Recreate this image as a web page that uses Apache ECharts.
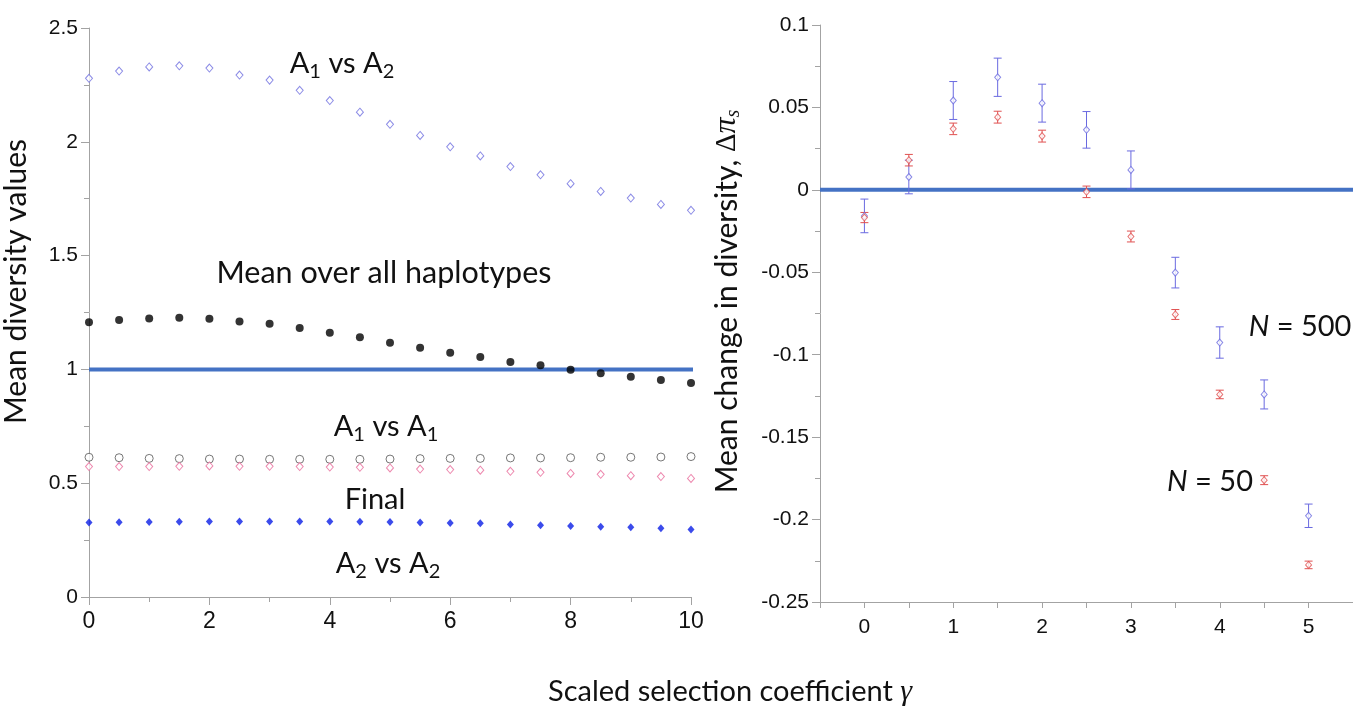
<!DOCTYPE html>
<html>
<head>
<meta charset="utf-8">
<script src="https://cdn.jsdelivr.net/npm/echarts@6/dist/echarts.min.js"></script>
<style>
  html, body { margin: 0; padding: 0; background: #fff; }
  #chart { width: 1353px; height: 708px; }
</style>
</head>
<body>
<div id="chart"></div>
<script>
// gamma values for the left panel (0..10 step 0.5)
const gammaLeft = [0, 0.5, 1, 1.5, 2, 2.5, 3, 3.5, 4, 4.5, 5, 5.5, 6, 6.5, 7, 7.5, 8, 8.5, 9, 9.5, 10];
const a1VsA2 = [2.279, 2.311, 2.329, 2.334, 2.324, 2.293, 2.271, 2.226, 2.181, 2.130, 2.077, 2.028, 1.978, 1.938, 1.891, 1.855, 1.816, 1.782, 1.753, 1.725, 1.699];
const meanAll = [1.207, 1.217, 1.224, 1.227, 1.223, 1.210, 1.201, 1.182, 1.161, 1.141, 1.117, 1.095, 1.073, 1.054, 1.032, 1.018, 0.999, 0.983, 0.968, 0.953, 0.940];
const a1VsA1 = [0.614, 0.612, 0.609, 0.608, 0.606, 0.606, 0.605, 0.605, 0.605, 0.605, 0.606, 0.608, 0.609, 0.609, 0.611, 0.611, 0.612, 0.614, 0.614, 0.615, 0.617];
const finalDiv = [0.573, 0.573, 0.573, 0.574, 0.576, 0.574, 0.574, 0.573, 0.571, 0.570, 0.567, 0.562, 0.560, 0.557, 0.552, 0.548, 0.543, 0.539, 0.533, 0.529, 0.521];
const a2VsA2 = [0.327, 0.328, 0.330, 0.331, 0.332, 0.332, 0.332, 0.332, 0.332, 0.331, 0.330, 0.327, 0.325, 0.324, 0.319, 0.315, 0.312, 0.309, 0.306, 0.302, 0.297];

// right panel: change in diversity with error bars
const gammaRight = [0, 0.5, 1, 1.5, 2, 2.5, 3, 3.5, 4, 4.5, 5];
const n500Mean = [-0.0158, 0.0078, 0.0542, 0.0683, 0.0526, 0.0364, 0.0121, -0.0502, -0.0926, -0.1241, -0.1977];
const n500Err = [0.0102, 0.0102, 0.0115, 0.0116, 0.0115, 0.0111, 0.0115, 0.0093, 0.0095, 0.0088, 0.0071];
const n50Mean = [-0.0168, 0.0180, 0.0370, 0.0441, 0.0326, -0.0012, -0.0283, -0.0756, -0.1241, -0.1761, -0.2275];
const n50Err = [0.0031, 0.0035, 0.0035, 0.0036, 0.0036, 0.0035, 0.0033, 0.0030, 0.0026, 0.0027, 0.0023];

const rightTickLabels = [0, 1, 2, 3, 4, 5];
const rightMinorTicks = [-0.5, 0, 0.5, 1, 1.5, 2, 2.5, 3, 3.5, 4, 4.5, 5, 5.5];

const AXIS_GREY = '#a3a3a3';
const TEXT_FONT = 'Lato, "Open Sans", sans-serif';
const TICK_FONT = '"Liberation Sans", Arial, sans-serif';
const MATH_FONT = '"Liberation Serif", "DejaVu Serif", serif';

function pairs(xs, ys) {
  return xs.map((x, i) => [x, ys[i]]);
}

function errorBars(xs, means, errs, color, gridIdx) {
  return {
    type: 'custom',
    xAxisIndex: gridIdx,
    yAxisIndex: gridIdx,
    data: xs.map((x, i) => [x, means[i] - errs[i], means[i] + errs[i]]),
    renderItem(params, api) {
      const lo = api.coord([api.value(0), api.value(1)]);
      const hi = api.coord([api.value(0), api.value(2)]);
      const cap = 4;
      const st = { stroke: color, lineWidth: 1 };
      return {
        type: 'group',
        children: [
          { type: 'line', shape: { x1: lo[0], y1: lo[1], x2: hi[0], y2: hi[1] }, style: st },
          { type: 'line', shape: { x1: lo[0] - cap, y1: lo[1], x2: lo[0] + cap, y2: lo[1] }, style: st },
          { type: 'line', shape: { x1: hi[0] - cap, y1: hi[1], x2: hi[0] + cap, y2: hi[1] }, style: st }
        ]
      };
    },
    z: 3
  };
}

const subRich = {
  s: { fontSize: 20, lineHeight: 20, padding: [16, 0, 0, 0], fontFamily: TEXT_FONT, fill: '#111' }
};

function label(text, x, y, extra) {
  return {
    type: 'text',
    x: x,
    y: y,
    style: Object.assign({
      text: text,
      fontFamily: TEXT_FONT,
      fontSize: 29,
      fill: '#111',
      align: 'center',
      verticalAlign: 'middle',
      rich: subRich
    }, extra || {})
  };
}

const axisCommon = {
  axisLine: { show: true, onZero: false, lineStyle: { color: AXIS_GREY, width: 1 } },
  axisTick: { show: true, inside: false, length: 8, lineStyle: { color: AXIS_GREY } },
  minorTick: { show: true, splitNumber: 2, length: 5, lineStyle: { color: AXIS_GREY } },
  splitLine: { show: false },
  minorSplitLine: { show: false }
};

const chart = echarts.init(document.getElementById('chart'));
chart.setOption({
  animation: false,
  backgroundColor: '#fff',
  grid: [
    { left: 86, top: 28, width: 605, height: 569 },
    { left: 820, top: 25, width: 537, height: 577 }
  ],
  xAxis: [
    Object.assign({}, axisCommon, {
      type: 'value', gridIndex: 0, min: 0, max: 10, interval: 2,
      axisLabel: { fontFamily: TICK_FONT, fontSize: 23, color: '#111', margin: 13 }
    }),
    Object.assign({}, axisCommon, {
      type: 'value', gridIndex: 1, min: -0.5, max: 5.5,
      axisTick: { show: true, length: 6, lineStyle: { color: AXIS_GREY }, customValues: rightMinorTicks },
      minorTick: { show: false },
      axisLabel: { fontFamily: TICK_FONT, fontSize: 21, color: '#111', margin: 15, customValues: rightTickLabels }
    })
  ],
  yAxis: [
    Object.assign({}, axisCommon, {
      type: 'value', gridIndex: 0, min: 0, max: 2.5, interval: 0.5,
      axisLabel: { fontFamily: TICK_FONT, fontSize: 21, color: '#111', margin: 11 },
      name: 'Mean diversity values',
      nameLocation: 'middle',
      nameGap: 58,
      nameTextStyle: { fontFamily: TEXT_FONT, fontSize: 30, color: '#111', padding: [0, 0, 0, 62] }
    }),
    Object.assign({}, axisCommon, {
      type: 'value', gridIndex: 1, min: -0.25, max: 0.1, interval: 0.05,
      axisLabel: { fontFamily: TICK_FONT, fontSize: 21, color: '#111', margin: 11 },
      name: 'Mean change in diversity, {d|Δ}{pi|π}{s|s}',
      nameLocation: 'middle',
      nameGap: 77,
      nameTextStyle: {
        fontFamily: TEXT_FONT, fontSize: 30, color: '#111', padding: [0, 0, 0, 24],
        rich: {
          d: { fontFamily: MATH_FONT, fontSize: 29, color: '#111' },
          pi: { fontFamily: MATH_FONT, fontStyle: 'italic', fontSize: 32, color: '#111' },
          s: { fontFamily: MATH_FONT, fontStyle: 'italic', fontSize: 20, lineHeight: 20, padding: [14, 0, 0, 0], color: '#111' }
        }
      }
    })
  ],
  series: [
    {
      type: 'line', xAxisIndex: 0, yAxisIndex: 0,
      data: [[0, 1], [10.2, 1]],
      clip: false, symbol: 'none',
      lineStyle: { color: '#4472c4', width: 4 }, z: 1
    },
    {
      type: 'scatter', xAxisIndex: 0, yAxisIndex: 0, data: pairs(gammaLeft, a1VsA2),
      symbol: 'diamond', symbolSize: [7, 8],
      itemStyle: { color: '#fff', borderColor: '#6f6fe0', borderWidth: 1 }, z: 3
    },
    {
      type: 'scatter', xAxisIndex: 0, yAxisIndex: 0, data: pairs(gammaLeft, meanAll),
      symbol: 'circle', symbolSize: 8,
      itemStyle: { color: '#000' }, z: 3
    },
    {
      type: 'scatter', xAxisIndex: 0, yAxisIndex: 0, data: pairs(gammaLeft, a1VsA1),
      symbol: 'circle', symbolSize: 8,
      itemStyle: { color: '#fff', borderColor: '#555', borderWidth: 1 }, z: 3
    },
    {
      type: 'scatter', xAxisIndex: 0, yAxisIndex: 0, data: pairs(gammaLeft, finalDiv),
      symbol: 'diamond', symbolSize: [7, 8],
      itemStyle: { color: '#fff', borderColor: '#e86a9a', borderWidth: 1 }, z: 3
    },
    {
      type: 'scatter', xAxisIndex: 0, yAxisIndex: 0, data: pairs(gammaLeft, a2VsA2),
      symbol: 'diamond', symbolSize: [7, 8],
      itemStyle: { color: '#0a1ee6' }, z: 3
    },
    {
      type: 'line', xAxisIndex: 1, yAxisIndex: 1,
      data: [[-0.5, 0], [5.5, 0]],
      symbol: 'none',
      lineStyle: { color: '#4472c4', width: 4 }, z: 1
    },
    errorBars(gammaRight, n500Mean, n500Err, '#6a6ae0', 1),
    errorBars(gammaRight, n50Mean, n50Err, '#e05050', 1),
    {
      type: 'scatter', xAxisIndex: 1, yAxisIndex: 1, data: pairs(gammaRight, n500Mean),
      symbol: 'diamond', symbolSize: [6, 7],
      itemStyle: { color: '#fff', borderColor: '#6a6ae0', borderWidth: 1 }, z: 4
    },
    {
      type: 'scatter', xAxisIndex: 1, yAxisIndex: 1, data: pairs(gammaRight, n50Mean),
      symbol: 'diamond', symbolSize: [6, 7],
      itemStyle: { color: '#fff', borderColor: '#e05050', borderWidth: 1 }, z: 4
    }
  ],
  graphic: [
    label('A{s|1} vs A{s|2}', 342, 64),
    label('Mean over all haplotypes', 384, 273, { fontSize: 30.5 }),
    label('A{s|1} vs A{s|1}', 386, 427),
    label('Final', 375, 500),
    label('A{s|2} vs A{s|2}', 388, 564),
    label('{n|N} = 500', 1300, 327, { rich: { n: { fontFamily: TEXT_FONT, fontStyle: 'italic', fontSize: 29, fill: '#111' } } }),
    label('{n|N} = 50', 1210, 482, { rich: { n: { fontFamily: TEXT_FONT, fontStyle: 'italic', fontSize: 29, fill: '#111' } } }),
    label('Scaled selection coefficient {g|γ}', 548, 692, {
      align: 'left',
      rich: { g: { fontFamily: MATH_FONT, fontStyle: 'italic', fontSize: 30, fill: '#111' } }
    })
  ]
});
</script>
</body>
</html>
